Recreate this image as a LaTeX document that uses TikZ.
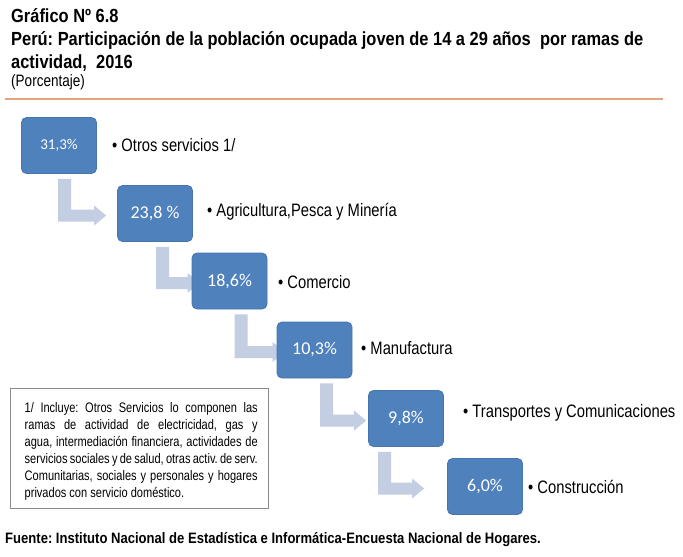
\documentclass[tikz,border=0pt]{standalone}
\usepackage{fontspec}
\setmainfont{Liberation Sans}
\newfontfamily\narrowfont{Liberation Sans}[FakeStretch=0.82]
\newfontfamily\notefont{Liberation Sans}[FakeStretch=0.80]
\newfontfamily\titlefont{Liberation Sans}[FakeStretch=0.865]
\newfontfamily\boxfont{Carlito}
\usetikzlibrary{calc}
\definecolor{boxblue}{HTML}{4F81BD}
\definecolor{boxedge}{HTML}{4674AD}
\definecolor{arrowc}{HTML}{C3CEE2}
\definecolor{rulec}{HTML}{E3A57A}
\definecolor{notec}{HTML}{8A8A8A}
\pgfdeclarelayer{bg}
\pgfsetlayers{bg,main}
\tikzset{
  pct/.style={rectangle, rounded corners=5pt, fill=boxblue, draw=boxedge, line width=0.8pt,
    minimum width=75pt, minimum height=56pt, inner sep=0pt, text=white,
    font=\boxfont\fontsize{18}{20}\selectfont},
  lbl/.style={anchor=west, inner sep=0pt, font=\narrowfont\fontsize{18}{20}\selectfont},
  ttl/.style={anchor=base west, inner sep=0pt, font=\titlefont\bfseries\fontsize{19}{22}\selectfont},
}
\newcommand\bentarrow[4]{%
  \fill[arrowc] let \p1=(#1.south), \p2=(#2.west) in
    (\x1+#3pt, \y1-5pt) -- (\x1+#3pt+13pt, \y1-5pt) -- (\x1+#3pt+13pt, \y2+4pt)
    -- (\x2+#4pt-12pt, \y2+4pt) -- (\x2+#4pt-12pt, \y2+8pt) -- (\x2+#4pt, \y2-2pt)
    -- (\x2+#4pt-12pt, \y2-12pt) -- (\x2+#4pt-12pt, \y2-8pt) -- (\x1+#3pt, \y2-8pt) -- cycle;}
\newcommand\jline[1]{\hbox to 233pt{\spaceskip=0.23em plus 1fil minus 0.12em #1}}
\begin{document}
\frenchspacing
\begin{tikzpicture}[x=1pt,y=-1pt]
\begin{pgfonlayer}{bg}
\fill[white] (0,0) rectangle (683,557);
\end{pgfonlayer}
\useasboundingbox (0,0) rectangle (683,557);
% title
\node[ttl] (t1) at (11,22) {Gráfico Nº 6.8};
\node[ttl] (t2) at (11,45) {Perú: Participación de la población ocupada joven de 14 a 29 años\ \ por ramas de};
\node[ttl] (t3) at (11,68) {actividad,\ \ 2016};
\node[anchor=base west, inner sep=0pt, font=\narrowfont\fontsize{16.5}{18}\selectfont] (t4) at (11,86) {(Porcentaje)};
\draw[rulec, line width=2pt] (5,98.5) coordinate (r1) -- (663,98.5) coordinate (r2);
% boxes
\node[pct, font=\boxfont\fontsize{15}{17}\selectfont] (b1) at (59,145.5) {31,3\%};
\node[pct] (b2) at (155,213.5) {23,8 \%};
\node[pct] (b3) at (229.5,281) {18,6\%};
\node[pct] (b4) at (314.5,350) {10,3\%};
\node[pct] (b5) at (406,418.5) {9,8\%};
\node[pct] (b6) at (485,486.5) {6,0\%};
% arrows (behind boxes)
\begin{pgfonlayer}{bg}
\bentarrow{b1}{b2}{-1}{-11}
\bentarrow{b2}{b3}{1}{8}
\bentarrow{b3}{b4}{5}{8}
\bentarrow{b4}{b5}{5.5}{-2}
\bentarrow{b5}{b6}{-28}{-23}
\end{pgfonlayer}
% labels
\node[lbl] (l1) at (112,145) {• Otros servicios 1/};
\node[lbl] (l2) at (207,212) {• Agricultura,Pesca y Minería};
\node[lbl] (l3) at (278,282) {• Comercio};
\node[lbl] (l4) at (361,348) {• Manufactura};
\node[lbl] (l5) at (463,413) {• Transportes y Comunicaciones};
\node[lbl] (l6) at (528,487) {• Construcción};
% footnote
\node[draw=notec, line width=0.8pt, anchor=north west, minimum width=258pt, minimum height=120pt,
  inner sep=0pt] (notebox) at (10,388) {};
\node[anchor=north west, inner sep=0pt, font=\notefont\fontsize{13.8}{17}\selectfont] (note) at (24.5,402) {%
\vbox{\baselineskip=17pt
\jline{1/ Incluye: Otros Servicios lo componen las}
\jline{ramas de actividad de electricidad, gas y}
\jline{agua, intermediación financiera, actividades de}
\jline{servicios sociales y de salud, otras activ. de serv.}
\jline{Comunitarias, sociales y personales y hogares}
\hbox{privados con servicio doméstico.}}};
% source
\node[anchor=base west, inner sep=0pt, font=\titlefont\bfseries\fontsize{15.1}{17}\selectfont] (src) at (5,543.5)
  {Fuente: Instituto Nacional de Estadística e Informática-Encuesta Nacional de Hogares.};
\end{tikzpicture}
\end{document}
